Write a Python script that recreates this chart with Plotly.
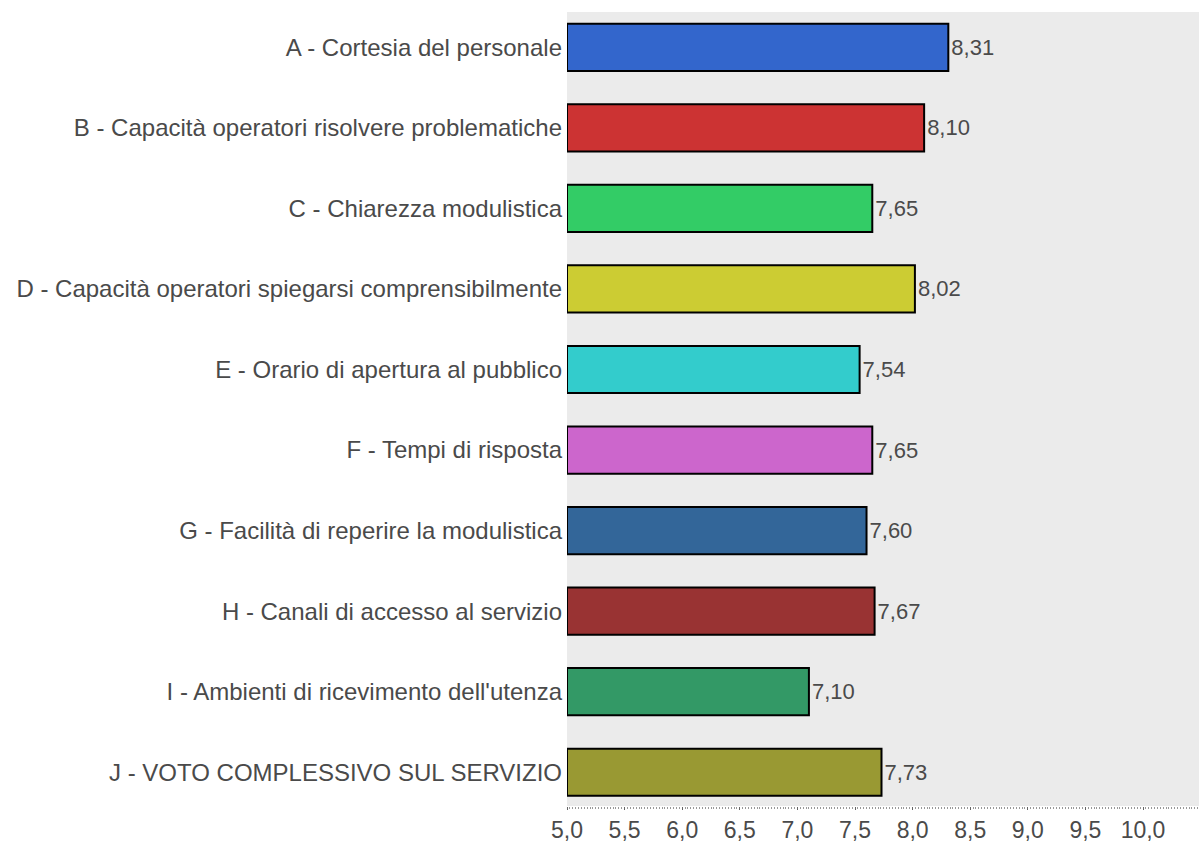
import plotly.graph_objects as go

categories = [
    "A - Cortesia del personale",
    "B - Capacità operatori risolvere problematiche",
    "C - Chiarezza modulistica",
    "D - Capacità operatori spiegarsi comprensibilmente",
    "E - Orario di apertura al pubblico",
    "F - Tempi di risposta",
    "G - Facilità di reperire la modulistica",
    "H - Canali di accesso al servizio",
    "I - Ambienti di ricevimento dell'utenza",
    "J - VOTO COMPLESSIVO SUL SERVIZIO",
]
values = [8.31, 8.10, 7.65, 8.02, 7.54, 7.65, 7.60, 7.67, 7.10, 7.73]
colors = ["#3366cc", "#cc3333", "#33cc66", "#cccc33", "#33cccc",
          "#cc66cc", "#336699", "#993333", "#339966", "#999933"]
base_value = 5.0
x_ticks = [5.0, 5.5, 6.0, 6.5, 7.0, 7.5, 8.0, 8.5, 9.0, 9.5, 10.0]

text_color = "#4a4a4a"
font_family = "Liberation Sans, Arial, sans-serif"

fig = go.Figure()
fig.add_trace(go.Bar(
    y=categories,
    x=[v - base_value for v in values],
    base=base_value,
    orientation="h",
    width=0.586,
    marker=dict(color=colors, line=dict(color="#000000", width=2)),
    text=[f"{v:.2f}".replace(".", ",") for v in values],
    textposition="outside",
    textfont=dict(size=22, color=text_color, family=font_family),
    constraintext="none",
    cliponaxis=False,
    hoverinfo="skip",
))

fig.update_layout(
    width=1199, height=843,
    margin=dict(l=567, r=0, t=12, b=32, pad=0),
    plot_bgcolor="#ebebeb",
    paper_bgcolor="#ffffff",
    separators=",.",
    showlegend=False,
    font=dict(family=font_family, color=text_color),
)
fig.update_xaxes(
    range=[5, 10.486],
    tickvals=x_ticks,
    tickformat=".1f",
    showgrid=False, zeroline=False, showline=False,
    ticks="outside", ticklen=3, tickcolor="#666666", tickwidth=1,
    minor=dict(ticks="outside", ticklen=2, dtick=0.025, tickcolor="#999999", tickwidth=1),
    tickfont=dict(size=23, color=text_color),
)
fig.update_yaxes(
    categoryorder="array", categoryarray=categories,
    range=[9.419, -0.438],
    showgrid=False, zeroline=False, showline=False,
    ticks="", ticklen=0, ticklabelstandoff=4,
    tickfont=dict(size=24, color=text_color),
)

fig.write_html("out.html")
